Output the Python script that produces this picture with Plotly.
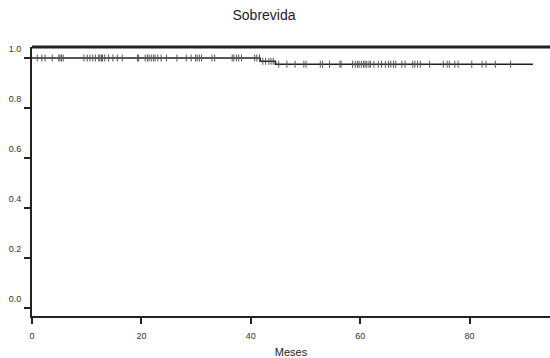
import numpy as np
import plotly.graph_objects as go

# Kaplan-Meier step data
step_times = [0, 41.7, 44.5, 91.6]
step_surv = [1.0, 0.987, 0.975, 0.975]

# censored observation times (months)
censor_times = [
    0.97, 1.8, 2.4, 3.7, 4.9, 5.1, 5.4, 5.7, 9.5, 10.1, 10.6, 11.1, 11.6, 12.2, 12.4,
    12.7, 12.9, 13.3, 14.0, 14.8, 15.6, 16.5, 19.3, 19.5, 20.7, 21.1, 21.4, 21.8, 22.2,
    22.5, 23.0, 23.6, 24.6, 26.5, 28.2, 29.1, 29.9, 30.2, 30.6, 31.0, 32.9, 33.4, 36.6,
    36.9, 37.4, 37.8, 38.3, 40.7, 41.1, 41.6, 42.2, 42.7, 43.3, 43.7, 44.1, 45.1, 46.6,
    48.1, 49.7, 50.1, 52.7, 53.1, 54.4, 56.3, 56.5, 58.6, 59.1, 59.5, 59.8, 60.2, 60.6,
    60.9, 61.2, 61.6, 61.9, 62.5, 63.3, 63.9, 64.6, 65.2, 65.6, 66.1, 66.5, 67.6, 68.2,
    69.6, 70.0, 70.5, 71.0, 72.7, 75.2, 75.9, 76.3, 77.3, 77.9, 80.4, 82.3, 83.0, 84.7,
    87.5,
]

x_ticks = [0, 20, 40, 60, 80]
y_ticks = [0.0, 0.2, 0.4, 0.6, 0.8, 1.0]

def surv_at(t):
    idx = np.searchsorted(step_times, t, side="right") - 1
    return step_surv[max(idx, 0)]

censor_surv = [surv_at(t) for t in censor_times]

col = "#222222"
fig = go.Figure()
fig.add_trace(go.Scatter(x=step_times, y=step_surv, mode="lines",
                         line=dict(shape="hv", color=col, width=1.6),
                         hoverinfo="skip", showlegend=False))
fig.add_trace(go.Scatter(x=censor_times, y=censor_surv, mode="markers",
                         marker=dict(symbol="line-ns", size=5,
                                     line=dict(color="#555555", width=1)),
                         showlegend=False))

tickfont = dict(family="Liberation Sans, Arial, sans-serif", size=9, color="#333333")
fig.update_layout(
    width=550, height=358,
    margin=dict(l=32, r=0, t=47, b=42),
    paper_bgcolor="white", plot_bgcolor="white",
    title=dict(text="Sobrevida", x=0.48, xanchor="center", y=0.958, yanchor="middle",
               font=dict(family="Liberation Sans, Arial, sans-serif", size=14, color="#222222")),
    xaxis=dict(range=[0, 94.7], tickvals=x_ticks, ticks="outside", ticklen=6, tickwidth=2,
               tickcolor=col, showgrid=False, zeroline=False, showline=True,
               linecolor=col, linewidth=2, tickfont=tickfont, ticklabelstandoff=4,
               title=dict(text="Meses", standoff=10,
                          font=dict(family="Liberation Sans, Arial, sans-serif", size=11, color="#222222"))),
    yaxis=dict(range=[-0.032, 1.044], tickvals=y_ticks, tickformat=".1f", ticks="outside",
               ticklen=6, tickwidth=2, tickcolor=col, showgrid=False, zeroline=False,
               showline=True, linecolor=col, linewidth=2, tickfont=tickfont,
               ticklabelshift=-9, ticklabelstandoff=1),
)
# thick top border
fig.add_shape(type="line", xref="paper", yref="paper", x0=0, x1=1, y0=1, y1=1,
              line=dict(color=col, width=3))
# y-axis extension below x-axis
fig.add_shape(type="line", xref="paper", yref="paper", x0=0, x1=0, y0=0, y1=-8/269,
              line=dict(color=col, width=2))
fig.write_html("out.html")
